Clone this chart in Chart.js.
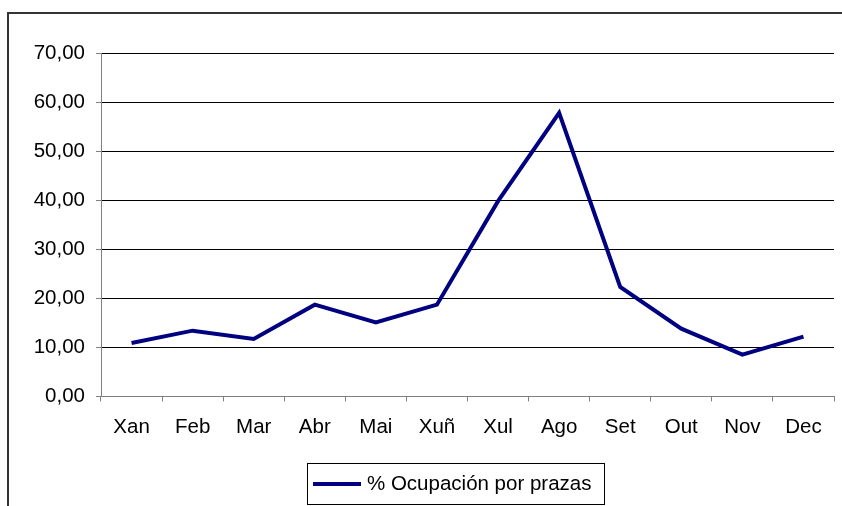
<!DOCTYPE html>
<html>
<head>
<meta charset="utf-8">
<script src="https://cdn.jsdelivr.net/npm/chart.js@4"></script>
<style>
  html, body { margin: 0; padding: 0; background: #fff; overflow: hidden; }
  #wrap { position: relative; width: 842px; height: 506px; }
  #frame { position: absolute; left: 7px; top: 12px; width: 900px; height: 600px;
           border-left: 2px solid #333; border-top: 2px solid #333; }
  canvas { position: absolute; left: 0; top: 0; }
</style>
</head>
<body>
<div id="wrap">
  <div id="frame"></div>
  <canvas id="line-chart" width="842" height="506"></canvas>
</div>
<script>
var months = ["Xan", "Feb", "Mar", "Abr", "Mai", "Xuñ", "Xul", "Ago", "Set", "Out", "Nov", "Dec"];
var ocupacion = [10.9, 13.4, 11.7, 18.7, 15.1, 18.7, 39.8, 57.8, 22.3, 13.8, 8.5, 12.2];
var seriesName = "% Ocupación por prazas";

var FONT = "Arial, 'Liberation Sans', sans-serif";

// legend drawn as a framed box, like the spreadsheet original
var boxLegend = {
    id: 'boxLegend',
    afterDraw: function (chart) {
        var ctx = chart.ctx;
        var ds = chart.data.datasets[0];
        ctx.save();
        ctx.strokeStyle = '#000';
        ctx.lineWidth = 1;
        ctx.strokeRect(307.5, 463.5, 297, 41);
        ctx.strokeStyle = ds.borderColor;
        ctx.lineWidth = 4;
        ctx.beginPath();
        ctx.moveTo(313, 484);
        ctx.lineTo(361, 484);
        ctx.stroke();
        ctx.fillStyle = '#000';
        ctx.font = '20.5px ' + FONT;
        ctx.textBaseline = 'middle';
        ctx.fillText(ds.label, 367, 484);
        ctx.restore();
    }
};

new Chart(document.getElementById("line-chart"), {
    type: 'line',
    data: {
        labels: months,
        datasets: [{
            label: seriesName,
            data: ocupacion,
            borderColor: "#000080",
            backgroundColor: "#000080",
            borderWidth: 4,
            pointRadius: 0,
            tension: 0,
            fill: false
        }]
    },
    options: {
        responsive: false,
        animation: false,
        layout: {
            padding: { top: 53, right: 8, bottom: 52, left: 0 }
        },
        plugins: {
            legend: { display: false },
            tooltip: { enabled: false }
        },
        scales: {
            x: {
                offset: true,
                grid: {
                    offset: true,
                    drawOnChartArea: false,
                    drawTicks: true,
                    tickLength: 5,
                    tickColor: '#808080'
                },
                border: { color: '#808080' },
                ticks: {
                    color: '#000',
                    padding: 14,
                    maxRotation: 0,
                    font: { family: FONT, size: 20.5 }
                }
            },
            y: {
                min: 0,
                max: 70,
                afterFit: function (scale) { scale.width = 101; },
                grid: {
                    color: function (c) { return c.tick && c.tick.value === 0 ? '#808080' : '#000'; },
                    tickLength: 5,
                    tickColor: '#808080'
                },
                border: { color: '#808080' },
                ticks: {
                    stepSize: 10,
                    color: '#000',
                    padding: 11,
                    font: { family: FONT, size: 20.5 },
                    callback: function (v) { return v.toFixed(2).replace('.', ','); }
                }
            }
        }
    },
    plugins: [boxLegend]
});
</script>
</body>
</html>
